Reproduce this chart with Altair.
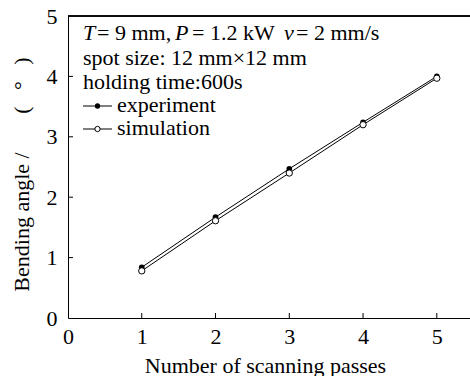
import altair as alt
import pandas as pd

passes = [1, 2, 3, 4, 5]
experiment = [0.84, 1.67, 2.47, 3.24, 4.00]
simulation = [0.78, 1.61, 2.40, 3.20, 3.97]
series_names = ["experiment", "simulation"]
x_ticks = [0, 1, 2, 3, 4, 5]
y_ticks = [0, 1, 2, 3, 4, 5]
inner_y_ticks = [1, 2, 3, 4]
inner_x_ticks = [1, 2, 3, 4, 5]
line2 = "spot size: 12 mm\u00d712 mm"
line3 = "holding time:600s"
x_title = "Number of scanning passes"
NB = "\u00a0"
y_title = "Bending angle /" + NB * 7 + "(" + NB * 3 + "\u00b0" + NB * 3 + ")"

W, H = 402, 302
FONT = "Liberation Serif"
FS = 22
TS = 22

df = pd.DataFrame({
    "passes": passes * 2,
    "angle": experiment + simulation,
    "series": [series_names[0]] * 5 + [series_names[1]] * 5,
})

xscale = alt.Scale(domain=[0, 5.45], nice=False, zero=False)
yscale = alt.Scale(domain=[0, 5], nice=False)

xaxis = alt.Axis(values=x_ticks, format="d", tickSize=0, labelPadding=8, labelFont=FONT, labelFontSize=FS,
                 labelColor="black", domainColor="black", grid=False, labelFlush=False,
                 title=x_title, titleFont=FONT, titleFontSize=FS,
                 titleFontWeight="normal", titleColor="black", titleX=197, titleY=47,
                 titleBaseline="middle")
yaxis = alt.Axis(values=y_ticks, format="d", tickSize=0, labelPadding=11, labelFont=FONT, labelFontSize=FS,
                 labelColor="black", domainColor="black", grid=False, labelFlush=False,
                 title=y_title, titleFont=FONT, titleFontSize=FS,
                 titleFontWeight="normal", titleColor="black", titleX=-47, titleY=158,
                 titleAngle=270, titleAlign="center", titleBaseline="middle")

base = alt.Chart(df)

lines = base.mark_line(color="black", strokeWidth=1).encode(
    x=alt.X("passes:Q", scale=xscale, axis=xaxis),
    y=alt.Y("angle:Q", scale=yscale, axis=yaxis),
    detail="series:N",
)
pts_exp = base.transform_filter(alt.datum.series == "experiment").mark_point(
    shape="circle", filled=True, color="black", size=32, opacity=1).encode(
    x=alt.X("passes:Q", scale=xscale), y=alt.Y("angle:Q", scale=yscale))
pts_sim = base.transform_filter(alt.datum.series == "simulation").mark_point(
    shape="circle", filled=True, fill="white", stroke="black", strokeWidth=1, size=40, opacity=1).encode(
    x=alt.X("passes:Q", scale=xscale), y=alt.Y("angle:Q", scale=yscale))

ytick_df = pd.DataFrame({"v": inner_y_ticks})
yticks = alt.Chart(ytick_df).mark_rule(color="black", strokeWidth=1).encode(
    y=alt.Y("v:Q", scale=yscale), x=alt.value(0), x2=alt.value(5))
xtick_df = pd.DataFrame({"v": inner_x_ticks})
xticks = alt.Chart(xtick_df).mark_rule(color="black", strokeWidth=1).encode(
    x=alt.X("v:Q", scale=xscale), y=alt.value(H), y2=alt.value(H - 5))
top_line = alt.Chart(ytick_df).mark_rule(color="black", strokeWidth=1).encode(
    x=alt.value(0), x2=alt.value("width"), y=alt.value(0))

one = pd.DataFrame({"a": [0]})


def txt(s, x, y, italic=False):
    return alt.Chart(one).mark_text(text=s, font=FONT, fontSize=TS, align="left", baseline="middle",
                                    color="black", fontStyle="italic" if italic else "normal").encode(
        x=alt.value(x), y=alt.value(y))


segs = [("T", 15, True), ("= 9 mm,", 29, False), ("P", 107, True), ("= 1.2 kW", 124, False),
        ("v", 216, True), ("= 2 mm/s", 228, False)]
texts = [txt(s, x, 17, it) for s, x, it in segs]
texts.append(txt(line2, 15, 42))
texts.append(txt(line3, 15, 66))
texts.append(txt(series_names[0], 49, 89))
texts.append(txt(series_names[1], 49, 112))

leg = []
for i, yy in enumerate([90, 113]):
    leg.append(alt.Chart(one).mark_rule(color="black", strokeWidth=1).encode(
        x=alt.value(15), x2=alt.value(44), y=alt.value(yy)))
leg.append(alt.Chart(one).mark_point(shape="circle", filled=True, color="black", size=28, opacity=1).encode(
    x=alt.value(29.5), y=alt.value(90)))
leg.append(alt.Chart(one).mark_point(shape="circle", filled=True, fill="white", stroke="black",
                                     strokeWidth=1, size=28, opacity=1).encode(
    x=alt.value(29.5), y=alt.value(113)))

chart = alt.layer(lines, pts_exp, pts_sim, yticks, xticks, top_line, *leg, *texts).properties(
    width=W, height=H,
    autosize=alt.AutoSizeParams(type="none"),
    padding={"left": 68, "top": 16, "right": 0, "bottom": 58},
).configure_view(stroke=None).configure(background="white")

chart.save("out.html", embed_options={"renderer": "svg", "actions": False})
